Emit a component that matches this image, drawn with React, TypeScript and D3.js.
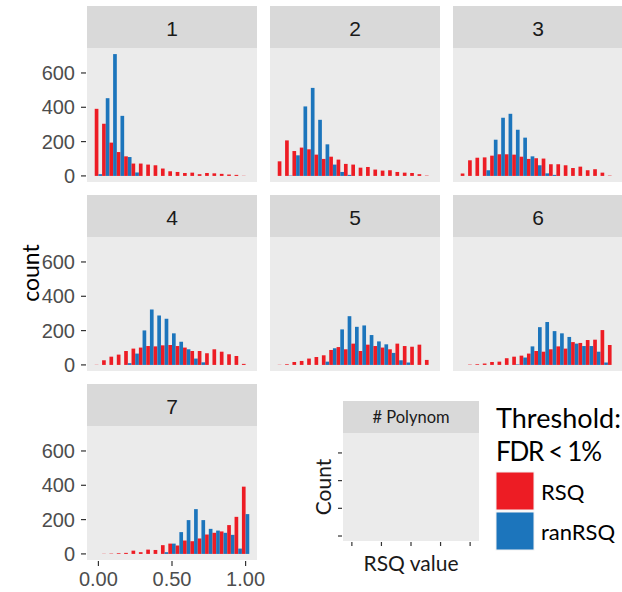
import React from "react";
import * as d3 from "d3";

// ---- data ----
const BIN_CENTERS = [0, 0.05, 0.1, 0.15, 0.2, 0.25, 0.3, 0.35, 0.4, 0.45, 0.5, 0.55, 0.6, 0.65, 0.7, 0.75, 0.8, 0.85, 0.9, 0.95, 1.0];
const BIN_WIDTH = 0.05;
const PANEL_LABELS = ["1", "2", "3", "4", "5", "6", "7"];
const SERIES = ["RSQ", "ranRSQ"];
const COLORS = ["#ED1C24", "#1C75BC"];

const rsq1 = [391, 304, 194, 139, 114, 72, 72, 66, 62, 43, 27, 23, 17, 19, 10, 17, 15, 12, 8, 6, 1];
const ran1 = [10, 453, 710, 350, 110, 20, 0, 0, 0, 0, 0, 0, 0, 0, 0, 0, 0, 0, 0, 0, 0];
const rsq2 = [85, 207, 145, 165, 155, 124, 99, 112, 95, 70, 66, 48, 52, 37, 31, 33, 23, 19, 17, 10, 2];
const ran2 = [0, 2, 120, 405, 513, 327, 184, 66, 23, 6, 0, 0, 0, 0, 0, 0, 0, 0, 0, 0, 0];
const rsq3 = [14, 91, 106, 108, 118, 126, 126, 124, 112, 99, 103, 101, 68, 68, 62, 46, 54, 33, 39, 19, 2];
const ran3 = [0, 0, 0, 33, 211, 339, 362, 269, 223, 114, 62, 15, 6, 0, 0, 0, 0, 0, 0, 0, 0];
const rsq4 = [1, 27, 48, 60, 81, 95, 101, 110, 108, 114, 116, 110, 101, 81, 81, 68, 91, 77, 62, 52, 6];
const ran4 = [0, 0, 0, 0, 10, 66, 201, 323, 288, 269, 184, 135, 91, 37, 15, 0, 0, 0, 0, 0, 0];
const rsq5 = [1, 4, 17, 23, 37, 46, 56, 87, 104, 91, 124, 81, 118, 110, 101, 91, 124, 110, 106, 118, 29];
const ran5 = [0, 0, 0, 0, 0, 0, 19, 97, 207, 284, 222, 230, 174, 137, 120, 70, 27, 14, 0, 0, 0];
const rsq6 = [0, 2, 4, 8, 17, 19, 39, 48, 54, 66, 81, 77, 91, 108, 95, 133, 128, 145, 147, 203, 116];
const ran6 = [0, 0, 0, 0, 0, 0, 0, 3, 43, 108, 220, 250, 197, 184, 163, 124, 110, 110, 77, 14, 0];
const rsq7 = [0, 1, 2, 4, 6, 19, 10, 25, 23, 51, 60, 49, 78, 74, 90, 113, 123, 131, 168, 216, 392];
const ran7 = [0, 0, 0, 0, 0, 0, 0, 0, 0, 10, 60, 127, 197, 261, 197, 146, 136, 123, 111, 31, 232];

const RSQ_DATA = [rsq1, rsq2, rsq3, rsq4, rsq5, rsq6, rsq7];
const RAN_DATA = [ran1, ran2, ran3, ran4, ran5, ran6, ran7];

const Y_TICKS = [0, 200, 400, 600];
const X_TICKS = [0, 0.5, 1.0];

// inset mock panel ticks
const INSET_X_TICKS = [0, 1, 2, 3, 4];
const INSET_Y_TICKS = [0, 1, 2, 3];

// ---- layout ----
const W = 622;
const H = 592;
const COL_X = 87;
const COL_STEP = 183;
const ROW_Y = 6;
const ROW_STEP = 189;
const PW = 170;
const STRIP_H = 42;
const PH = 134;

const AXIS_FONT = "'Liberation Sans', Arial, sans-serif";
const LEG_FONT = "Lato, 'Liberation Sans', sans-serif";

export default function App() {
  const dataMax = d3.max([...RSQ_DATA.flat(), ...RAN_DATA.flat()]) as number;
  const yPad = dataMax * 0.05;
  const xMin = BIN_CENTERS[0] - BIN_WIDTH / 2;
  const xMax = BIN_CENTERS[BIN_CENTERS.length - 1] + BIN_WIDTH / 2;
  const xPad = (xMax - xMin) * 0.05;

  const panels = PANEL_LABELS.map((lab, i) => {
    const col = i % 3;
    const row = Math.floor(i / 3);
    const left = COL_X + col * COL_STEP;
    const stripTop = ROW_Y + row * ROW_STEP;
    const top = stripTop + STRIP_H;
    const x = d3.scaleLinear().domain([xMin - xPad, xMax + xPad]).range([left, left + PW]);
    const y = d3.scaleLinear().domain([-yPad, dataMax + yPad]).range([top + PH, top]);
    const bars: any[] = [];
    BIN_CENTERS.forEach((c, k) => {
      const r = RSQ_DATA[i][k];
      const b = RAN_DATA[i][k];
      if (r > 0)
        bars.push(
          <rect key={"r" + k} x={x(c - BIN_WIDTH / 2)} width={x(c) - x(c - BIN_WIDTH / 2)} y={y(r)} height={y(0) - y(r)} fill={COLORS[0]} />
        );
      if (b > 0)
        bars.push(
          <rect key={"b" + k} x={x(c)} width={x(c + BIN_WIDTH / 2) - x(c)} y={y(b)} height={y(0) - y(b)} fill={COLORS[1]} />
        );
    });
    return (
      <g key={lab}>
        <rect x={left} y={stripTop} width={PW} height={STRIP_H} fill="#d9d9d9" />
        <text x={left + PW / 2} y={stripTop + STRIP_H / 2 + 1} textAnchor="middle" dominantBaseline="central" fontSize={21} fill="#1a1a1a" fontFamily={AXIS_FONT}>
          {lab}
        </text>
        <rect x={left} y={top} width={PW} height={PH} fill="#ebebeb" />
        {bars}
        {col === 0 &&
          Y_TICKS.map((t) => (
            <g key={"yt" + t}>
              <line x1={left - 6} x2={left - 1} y1={y(t)} y2={y(t)} stroke="#333" strokeWidth={1.2} />
              <text x={left - 12} y={y(t)} textAnchor="end" dominantBaseline="central" fontSize={20} fill="#4d4d4d" fontFamily={AXIS_FONT}>
                {t}
              </text>
            </g>
          ))}
        {i === 6 &&
          X_TICKS.map((t) => (
            <g key={"xt" + t}>
              <line x1={x(t)} x2={x(t)} y1={top + PH + 1} y2={top + PH + 6} stroke="#333" strokeWidth={1.2} />
              <text x={x(t)} y={top + PH + 26} textAnchor="middle" fontSize={20} fill="#4d4d4d" fontFamily={AXIS_FONT}>
                {d3.format(".2f")(t)}
              </text>
            </g>
          ))}
      </g>
    );
  });

  // inset mock panel
  const iL = 343, iR = 479, iStripTop = 401, iTop = 433, iBot = 541;
  const ix = d3.scaleLinear().domain([-0.3, 4.3]).range([iL, iR]);
  const iy = d3.scaleLinear().domain([-0.18, 3.72]).range([iBot, iTop]);

  return (
    <svg width={W} height={H} style={{ position: "absolute", left: 0, top: 0, background: "#fff" }}>
      <rect width={W} height={H} fill="#fff" />
      {panels}
      <text transform={`translate(30,273) rotate(-90)`} textAnchor="middle" dominantBaseline="central" fontSize={23} fill="#000" fontFamily={LEG_FONT}>
        count
      </text>

      {/* inset */}
      <rect x={iL} y={iStripTop} width={iR - iL} height={iTop - iStripTop} fill="#d9d9d9" />
      <text x={(iL + iR) / 2} y={(iStripTop + iTop) / 2} textAnchor="middle" dominantBaseline="central" fontSize={16.5} fill="#1a1a1a" fontFamily={LEG_FONT}>
        # Polynom
      </text>
      <rect x={iL} y={iTop} width={iR - iL} height={iBot - iTop} fill="#ebebeb" />
      {INSET_Y_TICKS.map((t) => (
        <line key={"iy" + t} x1={iL - 5} x2={iL - 1} y1={iy(t)} y2={iy(t)} stroke="#333" strokeWidth={1.2} />
      ))}
      {INSET_X_TICKS.map((t) => (
        <line key={"ix" + t} x1={ix(t)} x2={ix(t)} y1={iBot + 1} y2={iBot + 5} stroke="#333" strokeWidth={1.2} />
      ))}
      <text x={(iL + iR) / 2} y={571} textAnchor="middle" fontSize={21} fill="#1a1a1a" fontFamily={LEG_FONT}>
        RSQ value
      </text>
      <text transform={`translate(322,${(iTop + iBot) / 2}) rotate(-90)`} textAnchor="middle" dominantBaseline="central" fontSize={21} fill="#1a1a1a" fontFamily={LEG_FONT}>
        Count
      </text>

      {/* legend */}
      <text x={496} y={428} fontSize={27} fill="#000" fontFamily={LEG_FONT} textLength={125}>Threshold:</text>
      <text x={496} y={461} fontSize={26} fill="#000" fontFamily={LEG_FONT} textLength={106}>FDR &lt; 1%</text>
      {SERIES.map((s, k) => (
        <g key={s}>
          <rect x={496} y={472 + k * 40} width={38} height={38} fill={COLORS[k]} stroke="#f2f2f2" strokeWidth={1} />
          <text x={541} y={491 + k * 40} dominantBaseline="central" fontSize={22} fill="#000" fontFamily={LEG_FONT}>
            {s}
          </text>
        </g>
      ))}
    </svg>
  );
}
